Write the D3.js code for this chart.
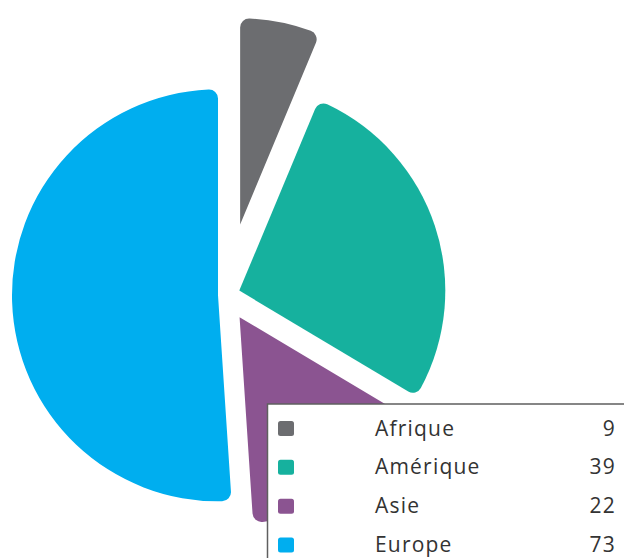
<!DOCTYPE html>
<html>
<head>
<meta charset="utf-8">
<script src="https://cdn.jsdelivr.net/npm/d3@7"></script>
<style>
    body { margin: 0; background: #fff; }
    svg { display: block; }
</style>
</head>
<body>
<div id="pie-chart"></div>
<script>
const regions = ["Afrique", "Amérique", "Asie", "Europe"];
const counts = [9, 39, 22, 73];
const colors = ["#6c6d70", "#16b19e", "#8b5491", "#00aeef"];

// how far each slice is pulled away from the centre
const pullOut = [72, 14, 26, 8];

function createPieChart() {
    const width = 624;
    const height = 558;
    const radius = 206;
    const cx = 226;
    const cy = 295;

    const data = regions.map((r, i) => ({ label: r, value: counts[i], index: i }));

    const svg = d3.select("#pie-chart")
        .append("svg")
        .attr("width", width)
        .attr("height", height);

    const pie = d3.pie().sort(null).value(d => d.value);
    const arc = d3.arc().innerRadius(0).outerRadius(radius).cornerRadius(9);

    const g = svg.append("g")
        .attr("transform", `translate(${cx},${cy})`);

    g.selectAll(".slice")
        .data(pie(data))
        .enter()
        .append("path")
        .attr("class", "slice")
        .attr("d", arc)
        .attr("fill", d => colors[d.data.index])
        .attr("transform", d => {
            const mid = (d.startAngle + d.endAngle) / 2;
            const k = pullOut[d.data.index];
            return `translate(${Math.sin(mid) * k},${-Math.cos(mid) * k})`;
        });

    // legend
    const legendX = 267.5;
    const legendY = 404;

    const legend = svg.append("g");

    legend.append("rect")
        .attr("x", legendX)
        .attr("y", legendY)
        .attr("width", 420)
        .attr("height", 220)
        .attr("fill", "#fff")
        .attr("stroke", "#5f5f5f")
        .attr("stroke-width", 1.5);

    const yScale = d3.scalePoint()
        .domain(regions)
        .range([428.5, 545]);

    const rows = legend.selectAll(".row")
        .data(data)
        .enter()
        .append("g")
        .attr("class", "row")
        .attr("transform", d => `translate(0,${yScale(d.label)})`);

    rows.append("rect")
        .attr("x", 278)
        .attr("y", -7.5)
        .attr("width", 16)
        .attr("height", 15)
        .attr("rx", 2.5)
        .attr("fill", d => colors[d.index]);

    rows.append("text")
        .attr("x", 375)
        .attr("y", 7)
        .style("font-family", "'Open Sans', sans-serif")
        .style("font-size", "21px")
        .style("letter-spacing", "1.2px")
        .style("fill", "#333")
        .text(d => d.label);

    rows.append("text")
        .attr("x", 616)
        .attr("y", 7)
        .style("text-anchor", "end")
        .style("font-family", "'Open Sans', sans-serif")
        .style("font-size", "21px")
        .style("letter-spacing", "1.2px")
        .style("fill", "#333")
        .text(d => d.value);
}

createPieChart();
</script>
</body>
</html>
